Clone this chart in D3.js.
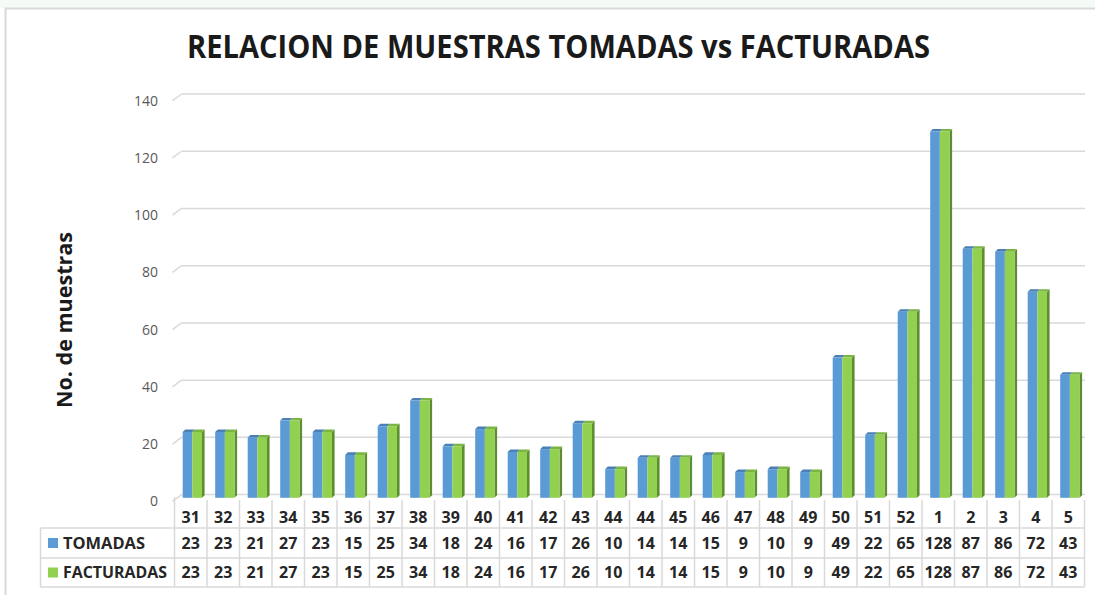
<!DOCTYPE html>
<html><head><meta charset="utf-8">
<script src="https://cdn.jsdelivr.net/npm/d3@7"></script>
<style>body{margin:0;background:#fff}svg{display:block}</style>
</head><body>
<svg id="c" width="1095" height="595"></svg>
<script>
const categories = ["31","32","33","34","35","36","37","38","39","40","41","42","43","44","44","45","46","47","48","49","50","51","52","1","2","3","4","5"];
const tomadas    = [23,23,21,27,23,15,25,34,18,24,16,17,26,10,14,14,15,9,10,9,49,22,65,128,87,86,72,43];
const facturadas = [23,23,21,27,23,15,25,34,18,24,16,17,26,10,14,14,15,9,10,9,49,22,65,128,87,86,72,43];
const seriesNames = ["TOMADAS","FACTURADAS"];
const yTicks = [0,20,40,60,80,100,120,140];
const titleText = "RELACION DE MUESTRAS TOMADAS vs FACTURADAS";
const yTitle = "No. de muestras";

const svg = d3.select("#c");
const grid = "#d9d9d9";
const colors = {TOMADAS:{front:"#5b9bd5", top:"#4a80b5"}, FACTURADAS:{front:"#92d050", top:"#7ab542", side:"#5f8d32"}};
const font = "'Open Sans', sans-serif";

svg.append("rect").attr("x",0).attr("y",0).attr("width",1095).attr("height",8).attr("fill","#f5faf7");
svg.append("rect").attr("x",5.5).attr("y",8.5).attr("width",1100).attr("height",600)
  .attr("fill","#fff").attr("stroke",grid).attr("stroke-width",2);

svg.append("text").attr("x",187).attr("y",58).text(titleText)
  .attr("font-family","'Liberation Sans Narrow','Open Sans',sans-serif").attr("font-weight","bold")
  .attr("font-size",32).attr("fill","#1a1a1a")
  .attr("textLength",743).attr("lengthAdjust","spacingAndGlyphs");

svg.append("text").attr("transform","translate(72,320) rotate(-90)")
  .attr("text-anchor","middle").text(yTitle)
  .attr("font-family",font).attr("font-weight","bold").attr("font-size",21).attr("fill","#1a1a1a")
  .attr("textLength",176).attr("lengthAdjust","spacingAndGlyphs");

const x = d3.scaleBand().domain(d3.range(categories.length)).range([174.5,1084.5]).padding(0);
const yBack = d3.scaleLinear().domain([0,140]).range([494.6,94]);
const barShift = 3.2, depth = 2.6, frontShift = 6.7;
const inner = d3.scaleBand().domain(seriesNames).range([8.2, 8.2+19.3]).padding(0);

const g = svg.append("g");
yTicks.forEach(v=>{
  const yb = yBack(v);
  g.append("line").attr("x1",181.5).attr("x2",1085).attr("y1",yb).attr("y2",yb)
   .attr("stroke",grid).attr("stroke-width",1.5);
  g.append("line").attr("x1",172.5).attr("x2",181.5).attr("y1",yb+frontShift).attr("y2",yb)
   .attr("stroke",grid).attr("stroke-width",1.5);
  g.append("text").attr("x",158).attr("y",yb+frontShift).attr("dy","0.35em")
   .attr("text-anchor","end").text(d3.format("d")(v))
   .attr("font-family",font).attr("font-size",14).attr("fill","#595959");
});

const data = categories.map((c,i)=>({i, TOMADAS:tomadas[i], FACTURADAS:facturadas[i]}));
const bars = svg.append("g");
data.forEach(d=>{
  const x0 = x(d.i);
  const base = yBack(0)+barShift;
  const bw = inner.bandwidth();
  const xl = x0+inner("TOMADAS"), xr = x0+inner("FACTURADAS")+bw;
  const topT = yBack(d.TOMADAS)+barShift, topF = yBack(d.FACTURADAS)+barShift;
  bars.append("polygon").attr("points",[[xr,topF],[xr+depth,topF-depth],[xr+depth,base-depth],[xr,base]].join(" "))
    .attr("fill",colors.FACTURADAS.side);
  bars.append("polygon").attr("points",[[xl,topT],[xl+depth,topT-depth],[xl+bw+depth,topT-depth],[xl+bw,topT]].join(" "))
    .attr("fill",colors.TOMADAS.top);
  bars.append("polygon").attr("points",[[xl+bw,topF],[xl+bw+depth,topF-depth],[xr+depth,topF-depth],[xr,topF]].join(" "))
    .attr("fill",colors.FACTURADAS.top);
  seriesNames.forEach(s=>{
    const t = yBack(d[s])+barShift;
    bars.append("rect").attr("x",x0+inner(s)).attr("y",t).attr("width",bw).attr("height",base-t)
      .attr("fill",colors[s].front);
  });
});

const tbl = svg.append("g");
const rowY = [500,528,558,587];
const lineAttr = sel=>sel.attr("stroke",grid).attr("stroke-width",1.5);
d3.range(categories.length+1).forEach(i=>{
  const xx = i<categories.length ? x(i) : x(categories.length-1)+x.bandwidth();
  lineAttr(tbl.append("line").attr("x1",xx).attr("x2",xx).attr("y1",i===0?497:rowY[0]).attr("y2",rowY[3]));
});
lineAttr(tbl.append("line").attr("x1",40.5).attr("x2",40.5).attr("y1",rowY[1]).attr("y2",rowY[3]));
[1,2,3].forEach(k=>lineAttr(tbl.append("line").attr("x1",40.5).attr("x2",1084.5).attr("y1",rowY[k]).attr("y2",rowY[k])));

const cellText = (txt,cx,cy)=>tbl.append("text").attr("x",cx).attr("y",cy).attr("dy","0.36em")
  .attr("text-anchor","middle").text(txt).attr("font-family",font).attr("font-weight","bold")
  .attr("font-size",16).attr("fill","#262626");
categories.forEach((c,i)=>{
  const cx = x(i)+x.bandwidth()/2;
  cellText(c,cx,(rowY[0]+rowY[1])/2+3);
  cellText(tomadas[i],cx,(rowY[1]+rowY[2])/2);
  cellText(facturadas[i],cx,(rowY[2]+rowY[3])/2);
});
const legW = {TOMADAS:82, FACTURADAS:104};
seriesNames.forEach((s,k)=>{
  const cy = (rowY[k+1]+rowY[k+2])/2;
  tbl.append("rect").attr("x",48).attr("y",cy-5).attr("width",10).attr("height",10).attr("fill",colors[s].front);
  tbl.append("text").attr("x",63).attr("y",cy).attr("dy","0.36em").text(s)
    .attr("font-family",font).attr("font-weight","bold").attr("font-size",16).attr("fill","#262626")
    .attr("textLength",legW[s]).attr("lengthAdjust","spacingAndGlyphs");
});
</script>
</body></html>
